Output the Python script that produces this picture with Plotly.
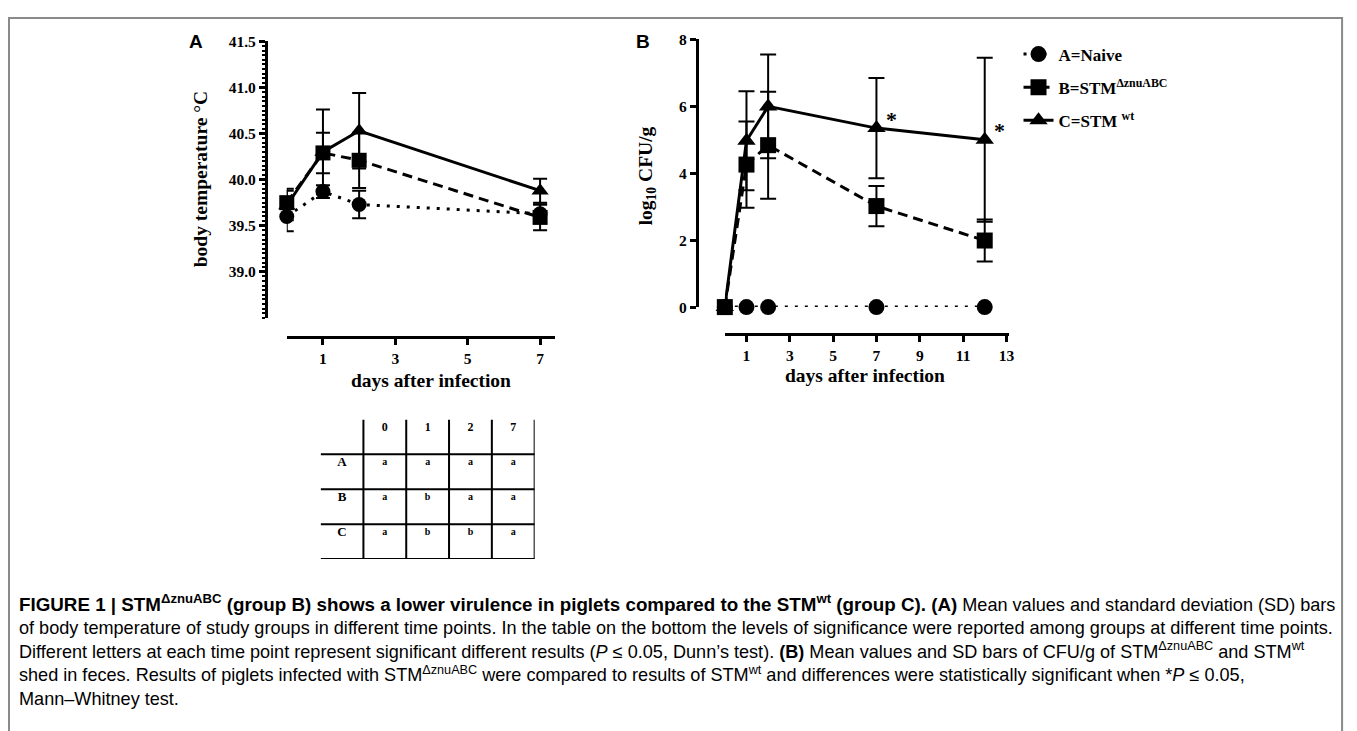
import plotly.graph_objects as go

W, H = 1357, 731
OFF = 8  # the page body margin that shifts the plot div

# ---------------- data ----------------
# Panel A: body temperature (°C)
days_temp = [0, 1, 2, 7]
temp_naive = [39.60, 39.87, 39.73, 39.63]
sd_temp_naive = [0.16, 0.07, 0.15, 0.10]
temp_dznu = [39.75, 40.29, 40.21, 39.59]
sd_temp_dznu = [0.15, 0.22, 0.30, 0.14]
temp_wt = [39.72, 40.30, 40.53, 39.88]
sd_temp_wt = [0.16, 0.46, 0.41, 0.13]
temp_ticks = [39.0, 39.5, 40.0, 40.5, 41.0, 41.5]
temp_ticktext = ["39.0", "39.5", "40.0", "40.5", "41.0", "41.5"]
days_ticks_A = [1, 3, 5, 7]

# Panel B: log10 CFU/g
days_cfu = [0, 1, 2, 7, 12]
cfu_naive = [0, 0, 0, 0, 0]
cfu_dznu = [0, 4.26, 4.84, 3.02, 1.99]
sd_cfu_dznu = [0, 1.29, 1.60, 0.60, 0.63]
cfu_wt = [0, 4.97, 6.00, 5.35, 5.00]
sd_cfu_wt = [0, 1.48, 1.55, 1.50, 2.45]
cfu_ticks = [0, 2, 4, 6, 8]
days_ticks_B = [1, 3, 5, 7, 9, 11, 13]
signif_days = [7, 12]
signif_vals = [5.35, 5.00]

# Table of significance letters
table_cols = ["0", "1", "2", "7"]
table_rows = ["A", "B", "C"]
table_letters = [["a", "a", "a", "a"],
                 ["a", "b", "a", "a"],
                 ["a", "b", "b", "a"]]

group_names = ["A=Naive", "B=STM<sup>ΔznuABC</sup>", "C=STM <sup>wt</sup>"]

# ---------------- helpers ----------------
def px(x):
    return (x - OFF) / W


def py(y):
    return 1 - (y - OFF) / H


SERIF = "Liberation Serif"
SANS = "Liberation Sans"
BLACK = "black"

fig = go.Figure()

styles = [
    dict(symbol="circle", dash="3px,7px"),
    dict(symbol="square", dash="10px,6px"),
    dict(symbol="triangle-up", dash="solid"),
]

# draw order: naive, wt, dznu (squares on top)
order = [0, 2, 1]
A_y = [temp_naive, temp_dznu, temp_wt]
A_sd = [sd_temp_naive, sd_temp_dznu, sd_temp_wt]
B_y = [cfu_naive, cfu_dznu, cfu_wt]
B_sd = [None, sd_cfu_dznu, sd_cfu_wt]

for g in order:
    st = styles[g]
    fig.add_trace(go.Scatter(
        x=days_temp, y=A_y[g], mode="lines+markers", xaxis="x", yaxis="y",
        line=dict(color=BLACK, width=3, dash=st["dash"]),
        marker=dict(symbol=st["symbol"], size=15, color=BLACK),
        error_y=dict(type="data", array=A_sd[g], thickness=2, width=7, color=BLACK),
        cliponaxis=False, showlegend=False, name=group_names[g],
    ))

for g in order:
    st = styles[g]
    err = dict(type="data", array=B_sd[g], thickness=2, width=8, color=BLACK) if B_sd[g] else None
    fig.add_trace(go.Scatter(
        x=days_cfu, y=B_y[g], mode="lines+markers", xaxis="x2", yaxis="y2",
        line=dict(color=BLACK, width=3, dash=st["dash"]),
        marker=dict(symbol=st["symbol"], size=16, color=BLACK),
        error_y=err, cliponaxis=False, showlegend=True, name=group_names[g],
        legendgroup=f"g{g}", legendrank=g + 1,
    ))

# ---------------- table ----------------
ncols = len(table_cols) + 1
nrows = len(table_rows) + 1
shapes = []
for i in range(1, ncols + 1):
    shapes.append(dict(type="line", xref="x3", yref="y3", x0=i, x1=i, y0=0, y1=nrows,
                       line=dict(color=BLACK, width=2)))
for j in range(0, nrows):
    shapes.append(dict(type="line", xref="x3", yref="y3", x0=0, x1=ncols, y0=j, y1=j,
                       line=dict(color=BLACK, width=2)))

hx = [i + 1.5 for i in range(len(table_cols))]
fig.add_trace(go.Scatter(
    x=hx, y=[nrows - 0.25] * len(table_cols), text=table_cols, mode="text",
    xaxis="x3", yaxis="y3", showlegend=False, hoverinfo="skip",
    textfont=dict(family=SERIF, size=12, color=BLACK, weight="bold"),
))
fig.add_trace(go.Scatter(
    x=[0.5] * len(table_rows), y=[nrows - 1 - r - 0.25 for r in range(len(table_rows))],
    text=table_rows, mode="text", xaxis="x3", yaxis="y3", showlegend=False,
    hoverinfo="skip", textfont=dict(family=SERIF, size=13, color=BLACK, weight="bold"),
))
cx, cy, ct = [], [], []
for r, row in enumerate(table_letters):
    for c, letter in enumerate(row):
        cx.append(c + 1.5)
        cy.append(nrows - 1 - r - 0.24)
        ct.append(letter)
fig.add_trace(go.Scatter(
    x=cx, y=cy, text=ct, mode="text", xaxis="x3", yaxis="y3", showlegend=False,
    hoverinfo="skip", textfont=dict(family=SERIF, size=10, color=BLACK, weight="bold"),
))

# ---------------- frame ----------------
shapes.append(dict(type="rect", xref="paper", yref="paper", x0=px(9), x1=px(1348),
                   y0=py(745), y1=py(9), line=dict(color="#8a8a8a", width=2)))

# ---------------- annotations ----------------
ann = []


def text(x, y, t, size, family=SERIF, angle=0, xanchor="center", weight="bold", align="center"):
    ann.append(dict(x=px(x), y=py(y), xref="paper", yref="paper", text=t, showarrow=False,
                    xanchor=xanchor, yanchor="middle", textangle=angle, align=align,
                    font=dict(family=family, size=size, color=BLACK, weight=weight)))


text(197, 33, "A", 19, family=SANS)
text(646, 33, "B", 19, family=SANS)
text(201, 174, "body temperature °C", 19.5, angle=-90)
text(433, 380, "days after infection", 19.5)
text(650, 171, "log<sub>10</sub> CFU/g", 19.5, angle=-90)
text(869, 375, "days after infection", 19.5)

# significance asterisks, placed at the data points of group C
for d, v in zip(signif_days, signif_vals):
    ann.append(dict(x=d, y=v, xref="x2", yref="y2", text="*", showarrow=False,
                    xshift=15, yshift=9,
                    font=dict(family=SERIF, size=22, color=BLACK, weight="bold")))

BOLD = '<span style="font-size:18.8px;font-weight:bold">'
cap_lines = [
    BOLD + "FIGURE 1 | STM<sup>ΔznuABC</sup> (group B) shows a lower virulence in piglets compared to the STM<sup>wt</sup> (group C). (A)</span> Mean values and standard deviation (SD) bars",
    "of body temperature of study groups in different time points. In the table on the bottom the levels of significance were reported among groups at different time points.",
    "Different letters at each time point represent significant different results (<i>P</i> ≤ 0.05, Dunn’s test). <b>(B)</b> Mean values and SD bars of CFU/g of STM<sup>ΔznuABC</sup> and STM<sup>wt</sup>",
    "shed in feces. Results of piglets infected with STM<sup>ΔznuABC</sup> were compared to results of STM<sup>wt</sup> and differences were statistically significant when *<i>P</i> ≤ 0.05,",
    "Mann–Whitney test.",
]
text(17, 656, "<br>".join(cap_lines), 18.1, family=SANS, xanchor="left", weight="normal",
     align="left")

axis_common = dict(showline=True, linecolor=BLACK, linewidth=3, ticks="outside",
                   tickcolor=BLACK, tickwidth=2.5, ticklen=6, showgrid=False,
                   zeroline=False, anchor="free",
                   tickfont=dict(family=SERIF, size=15.5, color=BLACK, weight="bold"))

fig.update_layout(
    width=W, height=H, autosize=False,
    margin=dict(l=0, r=0, t=0, b=0),
    paper_bgcolor="white", plot_bgcolor="white",
    showlegend=True,
    legend=dict(x=px(1023), y=py(28), xanchor="left", yanchor="top",
                font=dict(family=SERIF, size=17, color=BLACK, weight="bold"),
                bgcolor="rgba(0,0,0,0)", tracegroupgap=8, traceorder="grouped"),
    xaxis=dict(domain=[px(288), px(557)], range=[0, 7.4], position=py(336),
               tickvals=days_ticks_A, **axis_common),
    yaxis=dict(domain=[py(316), py(33)], range=[38.5, 41.5], position=px(267),
               tickvals=temp_ticks, ticktext=temp_ticktext,
               minor=dict(tick0=38.5, dtick=0.05, ticks="outside", ticklen=3,
                          tickwidth=2, tickcolor=BLACK, showgrid=False),
               **axis_common),
    xaxis2=dict(domain=[px(728), px(1013)], range=[0, 13.1], position=py(333),
                tickvals=days_ticks_B, **axis_common),
    yaxis2=dict(domain=[py(305), py(31)], range=[0, 8], position=px(700),
                tickvals=cfu_ticks, **axis_common),
    xaxis3=dict(domain=[px(322), px(537)], range=[0, ncols], anchor="y3", visible=False),
    yaxis3=dict(domain=[py(563), py(420)], range=[0, nrows], anchor="x3", visible=False),
    shapes=shapes,
    annotations=ann,
)

fig.write_html("out.html")
